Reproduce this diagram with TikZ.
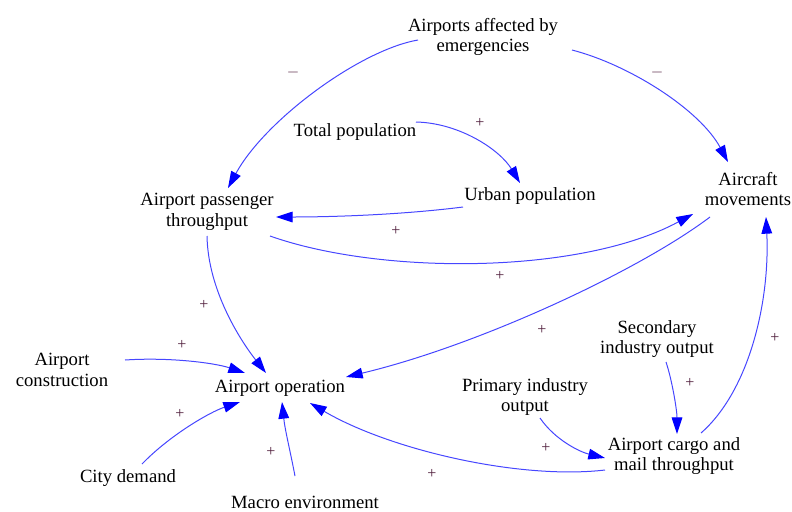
\documentclass[tikz,border=0pt]{standalone}
\usepackage{fontspec}
\setmainfont{Liberation Serif}
\usetikzlibrary{arrows.meta}
\definecolor{linkblue}{RGB}{70,70,255}
\definecolor{headblue}{RGB}{0,0,255}
\definecolor{signcol}{RGB}{80,30,60}
\begin{document}
\begin{tikzpicture}[x=0.75pt,y=-0.75pt,
  var/.style={align=center,font=\fontsize{14}{15.5}\selectfont,inner sep=0pt},
  link/.style={draw=linkblue,line width=0.75pt,-{Triangle[length=12.5pt,width=8pt,fill=headblue,color=headblue]}},
  sign/.style={font=\fontsize{12}{12}\selectfont,text=signcol,inner sep=0pt}]
\useasboundingbox (0,0) rectangle (792,511);
% variables
\node[var] (aff) at (483,37) {Airports affected by\\emergencies};
\node[var] (tot) at (355,132) {Total population};
\node[var] (urb) at (530,196) {Urban population};
\node[var] (acm) at (748,189) {Aircraft\\movements};
\node[var] (apt) at (207,212) {Airport passenger\\throughput};
\node[var] (aop) at (280,388) {Airport operation};
\node[var] (acon) at (62,370) {Airport\\construction};
\node[var] (city) at (128,478) {City demand};
\node[var] (macro) at (305,502) {Macro environment};
\node[var] (sec) at (657,339) {Secondary\\industry output};
\node[var] (prim) at (525,397) {Primary industry\\output};
\node[var] (cargo) at (674,456) {Airport cargo and\\mail throughput};
% links
\draw[link] ([shift={(-65,3)}]aff.center) .. controls (360,50) and (265,120) .. ([shift={(21,-24)}]apt.center);
\draw[link] ([shift={(89,13)}]aff.center) .. controls (630,65) and (700,110) .. ([shift={(-20,-27)}]acm.center);
\draw[link] ([shift={(61,-10)}]tot.center) .. controls (460,123) and (500,150) .. ([shift={(-10,-13)}]urb.center);
\draw[link] ([shift={(-67,11)}]urb.center) .. controls (400,215) and (330,217) .. ([shift={(69,5)}]apt.center);
\draw[link] ([shift={(63,24)}]apt.center) .. controls (380,275) and (580,275) .. ([shift={(-55,25)}]acm.center);
\draw[link] ([shift={(-38,28)}]acm.center) .. controls (640,270) and (480,345) .. ([shift={(66,-11)}]aop.center);
\draw[link] ([shift={(0,24)}]apt.center) .. controls (208,290) and (240,340) .. ([shift={(-14,-15)}]aop.center);
\draw[link] ([shift={(63,-10)}]acon.center) .. controls (170,357) and (215,363) .. ([shift={(-35,-15)}]aop.center);
\draw[link] ([shift={(14,-14)}]city.center) .. controls (170,435) and (210,412) .. ([shift={(-40,14)}]aop.center);
\draw[link] ([shift={(-10,-26)}]macro.center) .. controls (290,450) and (285,430) .. ([shift={(2,14)}]aop.center);
\draw[link] ([shift={(-69,14)}]cargo.center) .. controls (520,480) and (390,450) .. ([shift={(30,15)}]aop.center);
\draw[link] ([shift={(15,21)}]prim.center) .. controls (555,440) and (580,452) .. ([shift={(-69,2)}]cargo.center);
\draw[link] ([shift={(9,23)}]sec.center) .. controls (672,380) and (677,410) .. ([shift={(3,-22)}]cargo.center);
\draw[link] ([shift={(27,-23)}]cargo.center) .. controls (750,390) and (770,300) .. ([shift={(18,28)}]acm.center);
% signs
\node[sign] (s1) at (293,72) {$-$};
\node[sign] (s2) at (657,72) {$-$};
\node[sign] (s3) at (480,123) {+};
\node[sign] (s4) at (396,231) {+};
\node[sign] (s5) at (500,276) {+};
\node[sign] (s6) at (542,330) {+};
\node[sign] (s7) at (204,305) {+};
\node[sign] (s8) at (182,345) {+};
\node[sign] (s9) at (180,414) {+};
\node[sign] (s10) at (271,452) {+};
\node[sign] (s11) at (432,474) {+};
\node[sign] (s12) at (546,448) {+};
\node[sign] (s13) at (690,383) {+};
\node[sign] (s14) at (775,338) {+};
\end{tikzpicture}
\end{document}
